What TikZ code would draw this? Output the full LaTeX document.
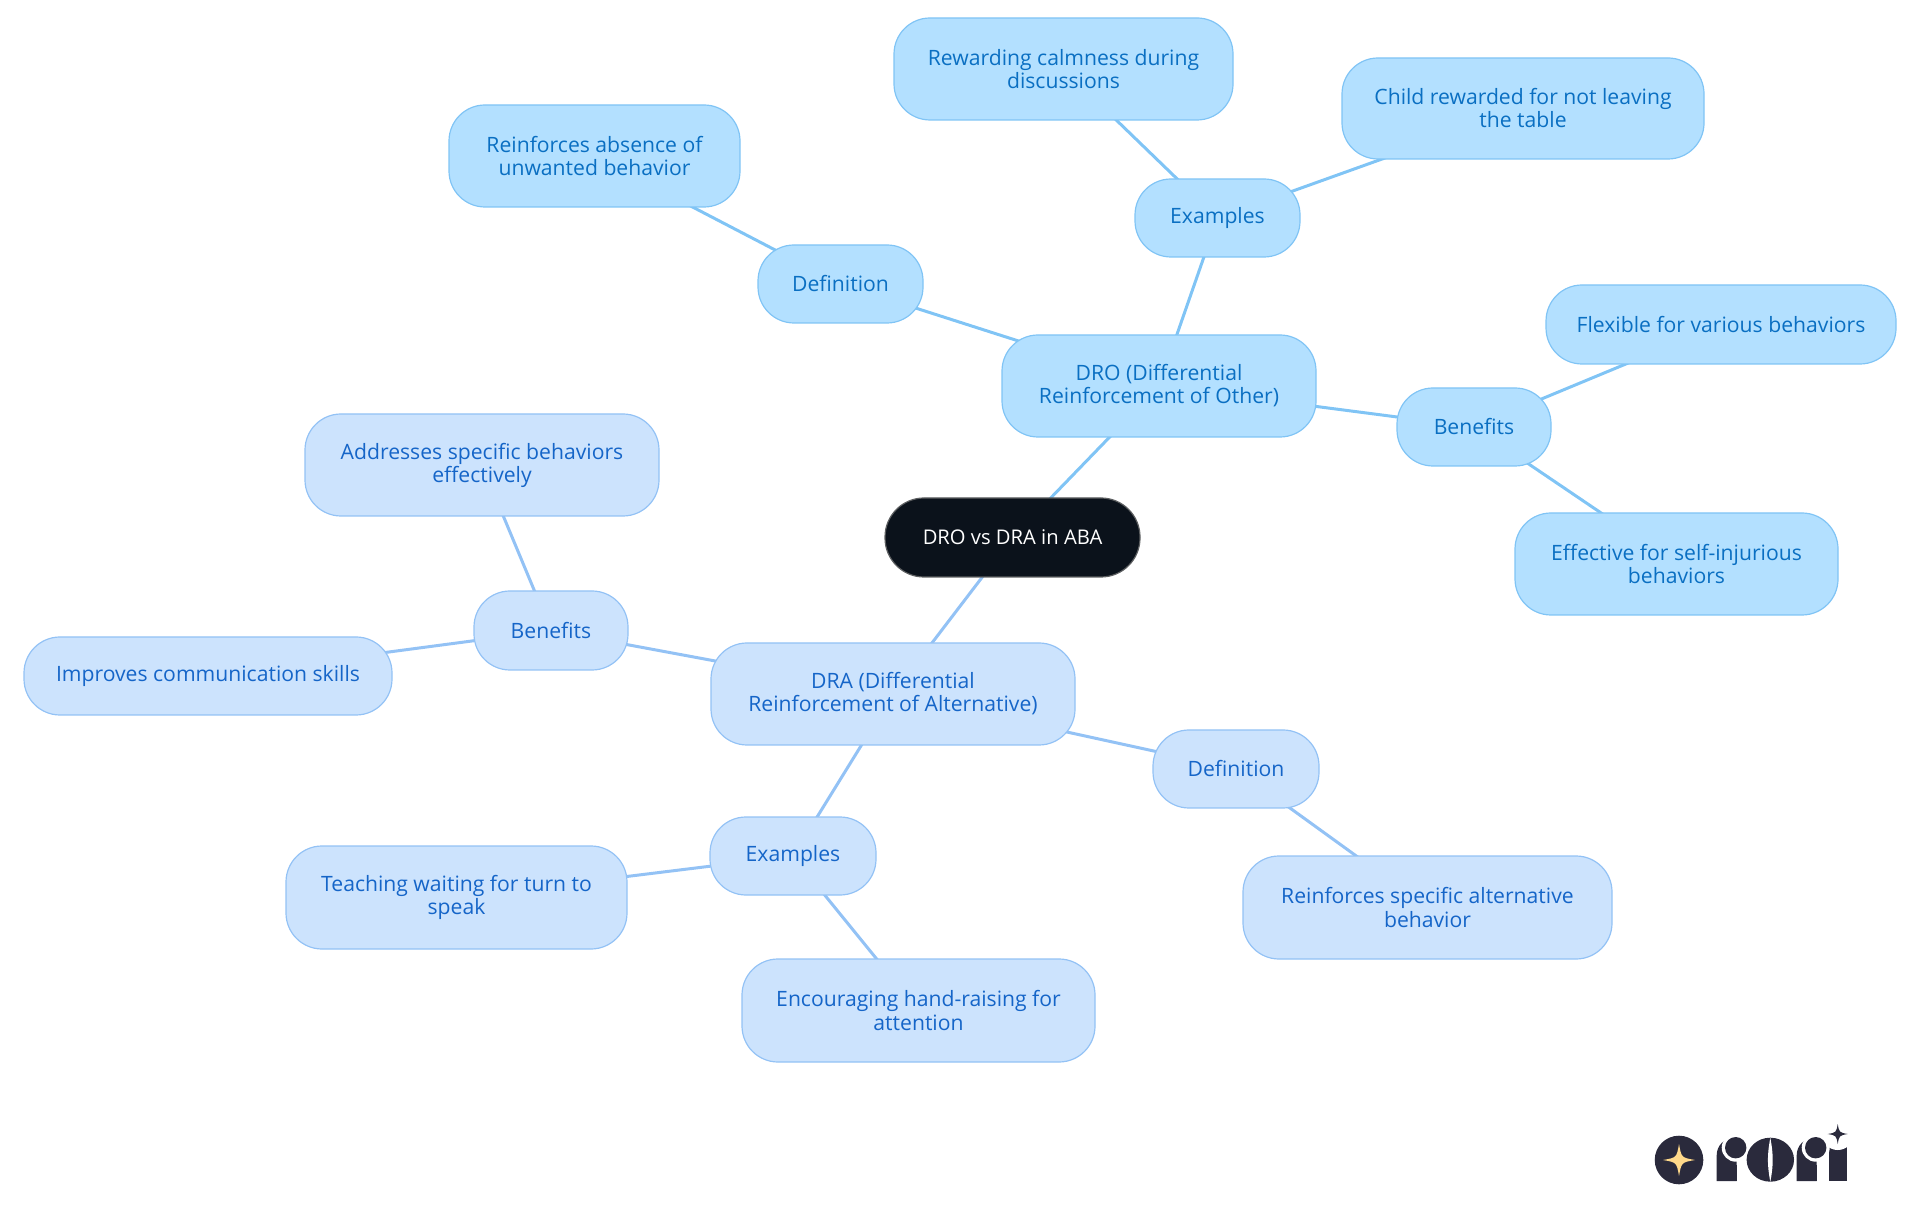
\documentclass[tikz,border=0pt]{standalone}
\usepackage{fontspec}
\setmainfont{Open Sans}
\usetikzlibrary{backgrounds}
\definecolor{rootfill}{HTML}{0B121B}
\definecolor{drofill}{HTML}{B3E0FF}
\definecolor{droline}{HTML}{80C4F5}
\definecolor{drotext}{HTML}{0A6FC2}
\definecolor{drafill}{HTML}{CCE3FD}
\definecolor{draline}{HTML}{93C2F5}
\definecolor{dratext}{HTML}{1565C8}
\definecolor{logodark}{HTML}{2A2A3C}
\definecolor{logostar}{HTML}{FFD98A}
\tikzset{
	mapnode/.style={draw, line width=0.012cm, rounded corners=0.36cm, align=center, inner sep=0pt,
		font=\fontsize{6.02}{6.55}\selectfont},
	rootnode/.style={mapnode, fill=rootfill, draw=gray!70!rootfill, text=white, rounded corners=0.39cm,
		font=\fontsize{5.75}{6.55}\selectfont},
	dronode/.style={mapnode, fill=drofill, draw=droline, text=drotext},
	dranode/.style={mapnode, fill=drafill, draw=draline, text=dratext},
	droedge/.style={draw=droline, line width=0.03cm},
	draedge/.style={draw=draline, line width=0.03cm},
}
\newcommand{\logostar}[3]{\fill[#3] (#1+#2,#2*0+\ystar) .. controls (#1+0.15*#2,\ystar+0.15*#2) .. (#1,\ystar+#2)
	.. controls (#1-0.15*#2,\ystar+0.15*#2) .. (#1-#2,\ystar) .. controls (#1-0.15*#2,\ystar-0.15*#2) .. (#1,\ystar-#2)
	.. controls (#1+0.15*#2,\ystar-0.15*#2) .. cycle;}
\newcommand{\logor}[1]{
	\fill[logodark] (#1,0.34) -- (#1,0.6) arc[start angle=180, end angle=90, radius=0.17] -- (#1+0.2,0.77) -- (#1+0.2,0.34) -- cycle;
	\fill[white] (#1+0.19,0.673) circle[radius=0.14];
	\fill[logodark] (#1+0.19,0.34) rectangle (#1+0.2,0.5);
	\fill[logodark] (#1+0.19,0.673) circle[radius=0.107];
}
\begin{document}
\begin{tikzpicture}
	\useasboundingbox (0,0) rectangle (19.2,12.15);
	% root
	\node[rootnode, minimum width=2.55cm, minimum height=0.79cm] (root) at (10.125,6.775) {DRO vs DRA in ABA};
	% DRO side
	\node[dronode, minimum width=3.14cm, minimum height=1.02cm] (dro) at (11.59,8.29) {DRO (Differential\\Reinforcement of Other)};
	\node[dronode, minimum width=1.65cm, minimum height=0.78cm] (drodef) at (8.405,9.31) {Definition};
	\node[dronode, minimum width=2.91cm, minimum height=1.02cm] (absence) at (5.945,10.59) {Reinforces absence of\\unwanted behavior};
	\node[dronode, minimum width=1.65cm, minimum height=0.78cm] (droex) at (12.175,9.97) {Examples};
	\node[dronode, minimum width=3.39cm, minimum height=1.02cm] (calm) at (10.635,11.46) {Rewarding calmness during\\discussions};
	\node[dronode, minimum width=3.62cm, minimum height=1.01cm] (table) at (15.23,11.065) {Child rewarded for not leaving\\the table};
	\node[dronode, minimum width=1.54cm, minimum height=0.78cm] (droben) at (14.74,7.88) {Benefits};
	\node[dronode, minimum width=3.5cm, minimum height=0.79cm] (flex) at (17.21,8.905) {Flexible for various behaviors};
	\node[dronode, minimum width=3.23cm, minimum height=1.02cm] (selfinj) at (16.765,6.51) {Effective for self-injurious\\behaviors};
	% DRA side
	\node[dranode, minimum width=3.64cm, minimum height=1.02cm] (dra) at (8.93,5.21) {DRA (Differential\\Reinforcement of Alternative)};
	\node[dranode, minimum width=1.54cm, minimum height=0.79cm] (draben) at (5.51,5.845) {Benefits};
	\node[dranode, minimum width=3.54cm, minimum height=1.02cm] (addr) at (4.82,7.5) {Addresses specific behaviors\\effectively};
	\node[dranode, minimum width=3.68cm, minimum height=0.78cm] (comm) at (2.08,5.39) {Improves communication skills};
	\node[dranode, minimum width=1.66cm, minimum height=0.78cm] (dradef) at (12.36,4.46) {Definition};
	\node[dranode, minimum width=3.69cm, minimum height=1.03cm] (specific) at (14.275,3.075) {Reinforces specific alternative\\behavior};
	\node[dranode, minimum width=1.66cm, minimum height=0.78cm] (draex) at (7.93,3.59) {Examples};
	\node[dranode, minimum width=3.41cm, minimum height=1.03cm] (turn) at (4.565,3.175) {Teaching waiting for turn to\\speak};
	\node[dranode, minimum width=3.53cm, minimum height=1.03cm] (hand) at (9.185,2.045) {Encouraging hand-raising for\\attention};
	% connectors go under the nodes
	\begin{scope}[on background layer]
		\draw[droedge] (root.center) -- (dro.center);
		\draw[droedge] (dro.center) -- (drodef.center);
		\draw[droedge] (drodef.center) -- (absence.center);
		\draw[droedge] (dro.center) -- (droex.center);
		\draw[droedge] (droex.center) -- (calm.center);
		\draw[droedge] (droex.center) -- (table.center);
		\draw[droedge] (dro.center) -- (droben.center);
		\draw[droedge] (droben.center) -- (flex.center);
		\draw[droedge] (droben.center) -- (selfinj.center);
		\draw[draedge] (root.center) -- (dra.center);
		\draw[draedge] (dra.center) -- (draben.center);
		\draw[draedge] (draben.center) -- (addr.center);
		\draw[draedge] (draben.center) -- (comm.center);
		\draw[draedge] (dra.center) -- (dradef.center);
		\draw[draedge] (dradef.center) -- (specific.center);
		\draw[draedge] (dra.center) -- (draex.center);
		\draw[draedge] (draex.center) -- (turn.center);
		\draw[draedge] (draex.center) -- (hand.center);
	\end{scope}
	% logo
	\fill[logodark] (16.79,0.55) circle[radius=0.243];
	\def\ystar{0.55}
	\logostar{16.79}{0.16}{logostar}
	\fill[logodark] (18.29,0.34) rectangle (18.467,0.69);
	\fill[white] (18.377,0.81) circle[radius=0.16];
	\def\ystar{0.81}
	\logostar{18.377}{0.1}{logodark}
	\logor{17.167}
	\logor{17.967}
	\fill[logodark] (17.703,0.553) ellipse[x radius=0.237, y radius=0.22];
	\fill[white] (17.703,0.773) .. controls (17.735,0.6) and (17.735,0.5) .. (17.703,0.333)
		.. controls (17.671,0.5) and (17.671,0.6) .. cycle;
\end{tikzpicture}
\end{document}
